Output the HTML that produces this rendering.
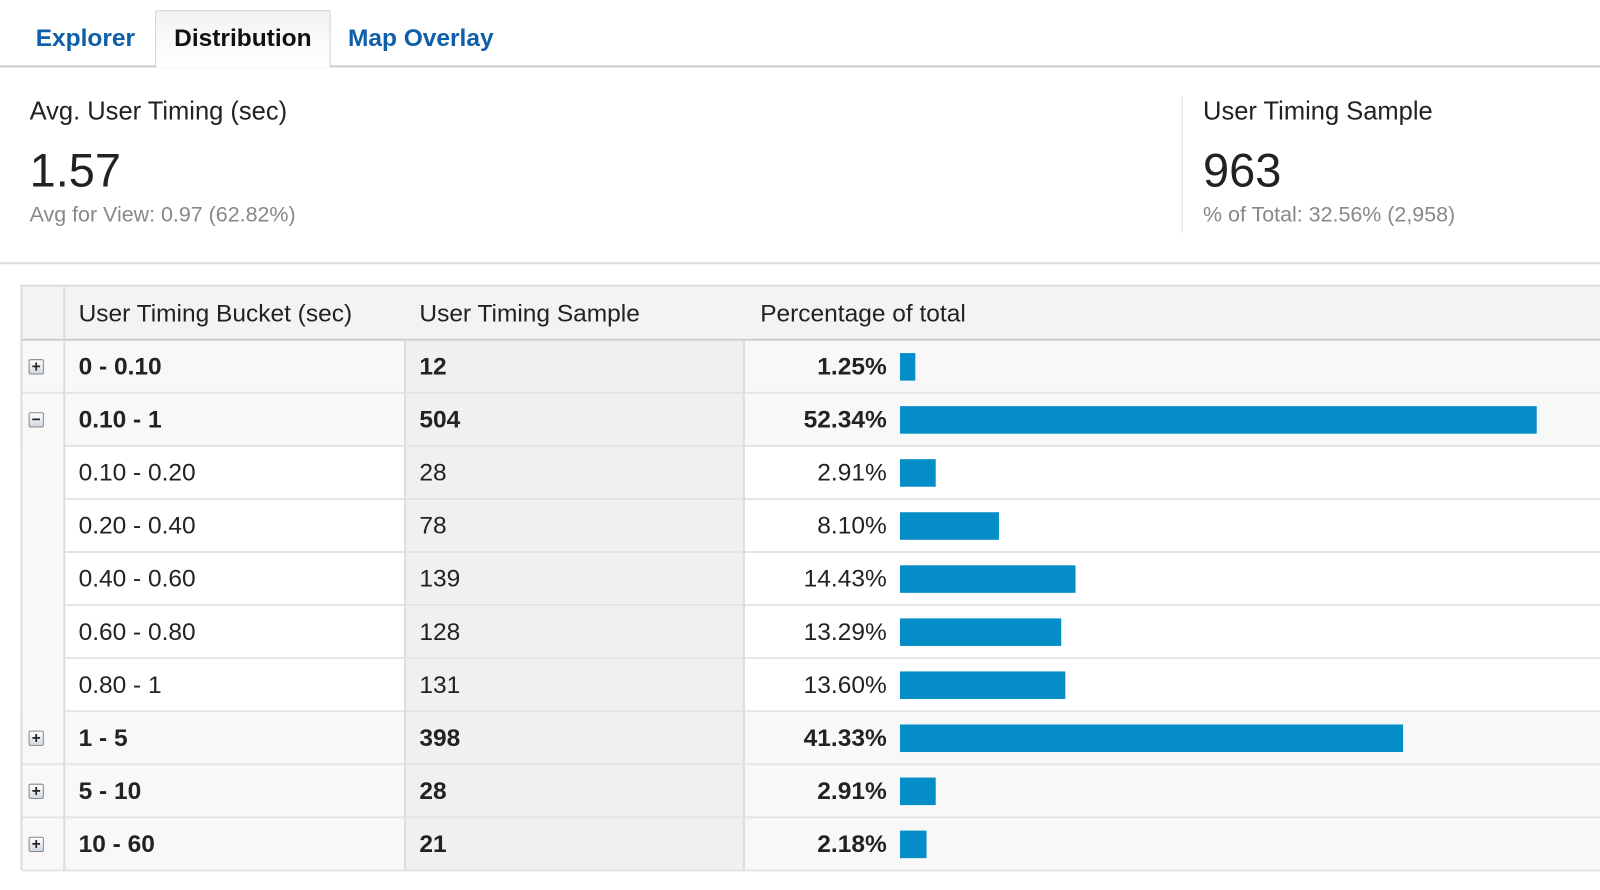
<!DOCTYPE html>
<html><head><meta charset="utf-8"><style>
body{margin:0;width:1600px;height:890px;background:#fff;font-family:"Liberation Sans",Arial,sans-serif;position:relative;overflow:hidden;color:#222}
#root{position:absolute;left:0;top:0;width:1568px;height:872px;transform:scale(1.0204);transform-origin:0 0}
.a{position:absolute}
.tab{position:absolute;top:10px;height:55px;line-height:55px;font-size:24px;font-weight:bold;color:#0f5ea8}
.cell{position:absolute;font-size:24px;line-height:52px;box-sizing:border-box;white-space:nowrap}
</style></head><body>
<div id="root">
<div class="a" style="left:0;top:64px;width:1600px;height:2px;background:#ccc"></div>
<div class="tab" style="left:35px">Explorer</div>
<div class="tab" style="left:152px;width:172px;box-sizing:border-box;border:1px solid #ccc;border-bottom:none;background:linear-gradient(#f3f3f3,#fff);color:#111;text-align:center;height:56px;line-height:54px;border-radius:2px 2px 0 0">Distribution</div>
<div class="tab" style="left:341px">Map Overlay</div>

<div class="a" style="left:29px;top:95px;font-size:25px">Avg. User Timing (sec)</div>
<div class="a" style="left:29px;top:140px;font-size:46px">1.57</div>
<div class="a" style="left:29px;top:199px;font-size:21px;color:#888">Avg for View: 0.97 (62.82%)</div>
<div class="a" style="left:1158px;top:94px;width:1px;height:134px;background:#ddd"></div>
<div class="a" style="left:1179px;top:95px;font-size:25px">User Timing Sample</div>
<div class="a" style="left:1179px;top:140px;font-size:46px">963</div>
<div class="a" style="left:1179px;top:199px;font-size:21px;color:#888">% of Total: 32.56% (2,958)</div>
<div class="a" style="left:0;top:257px;width:1600px;height:2px;background:#ddd"></div>

<div id="tbl" class="a" style="left:20px;top:279px;width:1580px;height:574px;border:2px solid #ddd;border-right:none;box-sizing:border-box">
</div>
</div>

<script>
const buckets=["0 - 0.10","0.10 - 1","0.10 - 0.20","0.20 - 0.40","0.40 - 0.60","0.60 - 0.80","0.80 - 1","1 - 5","5 - 10","10 - 60"];
const samples=[12,504,28,78,139,128,131,398,28,21];
const percents=[1.25,52.34,2.91,8.10,14.43,13.29,13.60,41.33,2.91,2.18];
const isParent=[1,1,0,0,0,0,0,1,1,1];
const expanded=[0,1,0,0,0,0,0,0,0,0];

const root=document.getElementById('root');
function mk(css,name,inter,txt){const d=document.createElement('div');d.className='cell';d.style.cssText=css;if(txt!==undefined)d.textContent=txt;


root.appendChild(d);return d;}
const T=279,H=55,RH=52;
mk(`left:22px;top:${T+2}px;width:1578px;height:${H-2}px;background:#f3f3f3`,'header-row',false);
mk(`left:62px;top:${T+2}px;width:2px;height:${574-4}px;background:#ddd`,'col-divider-1',false);
mk(`left:77px;top:${T+2}px;line-height:${H-2}px`,'header-bucket',true,'User Timing Bucket (sec)');
mk(`left:411px;top:${T+2}px;line-height:${H-2}px`,'header-sample',true,'User Timing Sample');
mk(`left:745px;top:${T+2}px;line-height:${H-2}px`,'header-percentage',true,'Percentage of total');
mk(`left:22px;top:${T+H-2}px;width:1578px;height:2px;background:#ccc`,'header-line',false);
const x0=882, pxPer=624/52.34;
for(let i=0;i<buckets.length;i++){
  const y=T+H+i*RH;
  const bg=isParent[i]?'#f8f8f8':'#fff';
  mk(`left:22px;top:${y}px;width:1578px;height:${RH}px;background:${bg};border-bottom:2px solid #e4e4e4`,'row-'+i,false);
  mk(`left:396px;top:${y}px;width:334px;height:${RH}px;background:#f0f0f0;border-left:2px solid #ddd;border-right:2px solid #ddd;border-bottom:2px solid #e4e4e4`,'sample-cell-'+i,false);
  if(!isParent[i]) mk(`left:22px;top:${y-2}px;width:40px;height:${RH+2}px;background:#f8f8f8`,'indent-cell-'+i,false);
  mk(`left:62px;top:${y}px;width:2px;height:${RH}px;background:#ddd`,'col-divider-row-'+i,false);
  const fw=isParent[i]?'bold':'normal';
  if(isParent[i]){
    mk(`left:28px;top:${y+18}px;width:15px;height:15px;border:1px solid #888;border-radius:2px;background:linear-gradient(#fff,#cfd8e0);line-height:13px;font-size:15px;font-weight:bold;text-align:center;color:#222`,'expand-toggle-'+i,true,expanded[i]?'−':'+');
  }
  mk(`left:77px;top:${y}px;font-weight:${fw}`,'bucket-label-'+i,isParent[i],buckets[i]);
  mk(`left:411px;top:${y}px;font-weight:${fw}`,'sample-value-'+i,false,String(samples[i]));
  mk(`left:730px;top:${y}px;width:139px;text-align:right;font-weight:${fw}`,'percent-value-'+i,false,percents[i].toFixed(2)+'%');
  mk(`left:${x0}px;top:${y+12}px;width:${Math.round(percents[i]*pxPer)}px;height:27px;background:#058dc7`,'bar-'+i,false);
}
</script>
</body></html>
